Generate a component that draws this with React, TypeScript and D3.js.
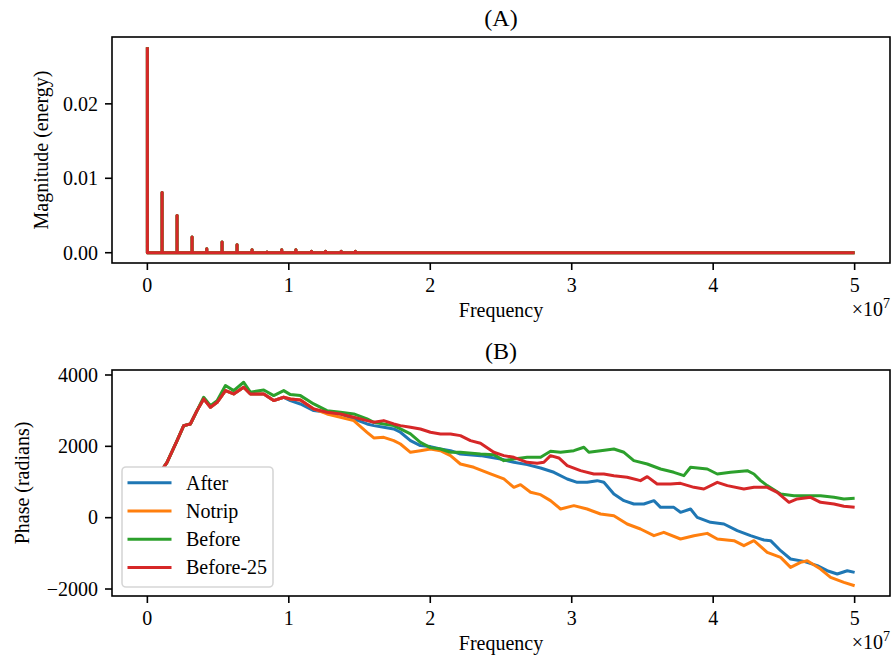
import React from "react";
import * as d3 from "d3";

// ---------- Data ----------
// Panel A: spectrum peaks (frequency in units of 1e7, magnitude in energy)
const harmonicFreq = [0, 0.104, 0.21, 0.316, 0.42, 0.528, 0.634, 0.74, 0.846, 0.95, 1.05, 1.16, 1.26, 1.37, 1.47];
const harmonicMag = [0.0276, 0.0081, 0.005, 0.0021, 0.00054, 0.00143, 0.00107, 0.0004, 0.0001, 0.0004, 0.0004, 0.0002, 0.0002, 0.0002, 0.0002];
const spectrumEnd = 5.0;

// Panel B: unwrapped phase (radians) vs frequency (units of 1e7)
const seriesNames = ["After", "Notrip", "Before", "Before-25"];
const seriesColors = ["#1f77b4", "#ff7f0e", "#2ca02c", "#d62728"];

const afterFreq = [0, 0.115, 0.139, 0.21, 0.257, 0.304, 0.351, 0.398, 0.446, 0.493, 0.552, 0.61, 0.681, 0.728, 0.823, 0.893, 0.964,
  1.011, 1.082, 1.176, 1.27, 1.365, 1.459, 1.553, 1.601, 1.671, 1.742, 1.789, 1.86, 1.93, 2.001, 2.072, 2.143, 2.213, 2.355, 2.497,
  2.591, 2.685, 2.78, 2.874, 2.968, 3.039, 3.109, 3.18, 3.227, 3.298, 3.369, 3.439, 3.51, 3.581, 3.628, 3.722, 3.769, 3.84, 3.887,
  3.981, 4.076, 4.17, 4.264, 4.359, 4.406, 4.477, 4.547, 4.641, 4.736, 4.806, 4.877, 4.948, 5.0];
const afterPhase = [0, 1412, 1552, 2160, 2581, 2627, 3001, 3329, 3095, 3235, 3562, 3469, 3656, 3469, 3469, 3282, 3375,
  3282, 3188, 3001, 2955, 2908, 2768, 2627, 2581, 2534, 2487, 2394, 2160, 2020, 1992, 1926, 1879, 1786, 1739, 1646,
  1552, 1487, 1393, 1272, 1085, 991, 991, 1038, 991, 664, 477, 383, 383, 477, 290, 290, 150, 243, 9,
  -131, -178, -365, -505, -626, -645, -926, -1159, -1225, -1346, -1487, -1580, -1487, -1533];

const notripFreq = [0, 0.115, 0.139, 0.21, 0.257, 0.304, 0.351, 0.398, 0.446, 0.493, 0.552, 0.61, 0.681, 0.728, 0.823, 0.893, 0.964,
  1.011, 1.082, 1.176, 1.27, 1.365, 1.459, 1.553, 1.601, 1.671, 1.742, 1.789, 1.86, 1.93, 2.001, 2.072, 2.143, 2.213, 2.308, 2.426,
  2.52, 2.591, 2.638, 2.709, 2.78, 2.85, 2.921, 3.015, 3.109, 3.204, 3.298, 3.392, 3.486, 3.581, 3.651, 3.769, 3.864, 3.958,
  4.029, 4.147, 4.217, 4.288, 4.382, 4.477, 4.547, 4.618, 4.665, 4.759, 4.83, 4.924, 5.0];
const notripPhase = [0, 1412, 1552, 2160, 2581, 2627, 3001, 3329, 3095, 3235, 3562, 3469, 3656, 3469, 3469, 3282, 3375,
  3329, 3301, 3048, 2908, 2814, 2721, 2394, 2235, 2253, 2160, 2066, 1833, 1879, 1926, 1879, 1739, 1505, 1412, 1225,
  1085, 851, 926, 711, 645, 477, 243, 337, 243, 103, 56, -178, -318, -505, -411, -598, -505, -440,
  -598, -645, -785, -645, -972, -1113, -1393, -1253, -1206, -1440, -1674, -1814, -1907];

const beforeFreq = [0, 0.115, 0.139, 0.21, 0.257, 0.304, 0.351, 0.398, 0.446, 0.493, 0.552, 0.61, 0.681, 0.728, 0.823, 0.893, 0.964,
  1.011, 1.082, 1.176, 1.27, 1.365, 1.459, 1.553, 1.601, 1.671, 1.742, 1.789, 1.86, 1.93, 2.001, 2.072, 2.143, 2.213, 2.355, 2.449,
  2.52, 2.591, 2.685, 2.78, 2.85, 2.921, 3.015, 3.086, 3.121, 3.204, 3.298, 3.369, 3.439, 3.534, 3.628, 3.722, 3.793, 3.84,
  3.958, 4.029, 4.123, 4.241, 4.288, 4.335, 4.382, 4.477, 4.571, 4.665, 4.759, 4.854, 4.924, 5.0];
const beforePhase = [0, 1412, 1552, 2160, 2581, 2627, 3001, 3375, 3140, 3280, 3703, 3562, 3796, 3520, 3581, 3422, 3562,
  3450, 3422, 3188, 3001, 2955, 2908, 2768, 2674, 2627, 2581, 2487, 2347, 2113, 1964, 1926, 1833, 1833, 1786, 1767,
  1599, 1646, 1692, 1692, 1861, 1833, 1879, 1973, 1833, 1879, 1926, 1833, 1599, 1505, 1365, 1272, 1178, 1412,
  1365, 1225, 1272, 1318, 1225, 1038, 898, 664, 617, 617, 617, 570, 524, 542];

const before25Freq = [0, 0.115, 0.139, 0.21, 0.257, 0.304, 0.351, 0.398, 0.446, 0.493, 0.552, 0.61, 0.681, 0.728, 0.823, 0.893, 0.964,
  1.011, 1.082, 1.176, 1.27, 1.365, 1.459, 1.553, 1.601, 1.671, 1.742, 1.789, 1.86, 1.93, 2.001, 2.072, 2.143, 2.213, 2.284, 2.355,
  2.449, 2.52, 2.591, 2.685, 2.756, 2.803, 2.85, 2.909, 2.968, 3.062, 3.156, 3.227, 3.298, 3.392, 3.486, 3.534, 3.604, 3.699,
  3.769, 3.864, 3.934, 4.029, 4.1, 4.217, 4.288, 4.382, 4.453, 4.536, 4.594, 4.689, 4.759, 4.854, 4.924, 5.0];
const before25Phase = [0, 1412, 1552, 2160, 2581, 2627, 3001, 3329, 3095, 3235, 3562, 3469, 3656, 3469, 3469, 3282, 3375,
  3329, 3301, 3048, 2955, 2908, 2814, 2721, 2674, 2721, 2628, 2581, 2534, 2487, 2394, 2347, 2347, 2300, 2160, 2085,
  1833, 1739, 1692, 1552, 1524, 1552, 1739, 1674, 1459, 1318, 1225, 1225, 1178, 1131, 1038, 1150, 944, 944,
  963, 851, 804, 991, 898, 804, 851, 851, 711, 430, 524, 570, 430, 383, 318, 290];

const xTicks = [0, 1, 2, 3, 4, 5];
const yTicksA = [0, 0.01, 0.02];
const yTicksB = [-2000, 0, 2000, 4000];

// ---------- Layout ----------
const W = 896;
const H = 659;
const FONT = "'Liberation Serif', 'Times New Roman', Times, serif";
const LEFT = 112;
const RIGHT = 890;
const A_TOP = 37;
const A_BOT = 263;
const B_TOP = 370;
const B_BOT = 596;

const x = d3.scaleLinear().domain([-0.25, 5.25]).range([LEFT, RIGHT]);
const magMax = d3.max(harmonicMag) as number;
const yA = d3.scaleLinear().domain([-0.05 * magMax, 1.05 * magMax]).range([A_BOT, A_TOP]);
const yB = d3.scaleLinear().domain([-2196, 4140]).range([B_BOT, B_TOP]);

const fmtMinus = (v: number, s: string) => (v < 0 ? "\u2212" + s.replace("-", "") : s);

function XAxis({ bottom }: { bottom: number }) {
  return (
    <g>
      {xTicks.map((t) => (
        <g key={t} transform={`translate(${x(t)},${bottom})`}>
          <line y1={0} y2={7} stroke="#000" strokeWidth={1.6} />
          <text y={29} textAnchor="middle" fontSize={20} fontFamily={FONT}>{t}</text>
        </g>
      ))}
      <text x={(LEFT + RIGHT) / 2} y={bottom + 54} textAnchor="middle" fontSize={20} fontFamily={FONT}>Frequency</text>
      <text x={RIGHT} y={bottom + 53} textAnchor="end" fontSize={20} fontFamily={FONT}>
        ×10<tspan dy={-8} fontSize={14}>7</tspan>
      </text>
    </g>
  );
}

function YAxis({ ticks, scale, fmt }: { ticks: number[]; scale: d3.ScaleLinear<number, number>; fmt: (v: number) => string }) {
  return (
    <g>
      {ticks.map((t) => (
        <g key={t} transform={`translate(${LEFT},${scale(t)})`}>
          <line x1={-7} x2={0} stroke="#000" strokeWidth={1.6} />
          <text x={-14} dy="0.34em" textAnchor="end" fontSize={20} fontFamily={FONT}>{fmt(t)}</text>
        </g>
      ))}
    </g>
  );
}

export default function App() {
  // Spectrum path for panel A
  const specPts: [number, number][] = [];
  harmonicFreq.forEach((f, i) => {
    if (i === 0) {
      specPts.push([f, harmonicMag[i]], [f, 0]);
    } else {
      specPts.push([f, 0], [f, harmonicMag[i]], [f, 0]);
    }
  });
  specPts.push([spectrumEnd, 0]);
  const lineA = d3.line<[number, number]>().x((d) => x(d[0])).y((d) => yA(d[1]));
  const specPath = lineA(specPts) || "";

  const series = [
    { f: afterFreq, v: afterPhase },
    { f: notripFreq, v: notripPhase },
    { f: beforeFreq, v: beforePhase },
    { f: before25Freq, v: before25Phase },
  ];
  const paths = series.map((s) =>
    d3
      .line<number>()
      .x((_, i) => x(s.f[i]))
      .y((d) => yB(d))(s.v) || ""
  );

  const legX = 122;
  const legY = 467;
  const legW = 151;
  const legH = 120;

  return (
    <svg width={W} height={H} style={{ position: "absolute", left: 0, top: 0, background: "#fff" }}>
      <rect x={0} y={0} width={W} height={H} fill="#fff" />
      {/* Panel A */}
      <text x={(LEFT + RIGHT) / 2} y={26} textAnchor="middle" fontSize={24} fontFamily={FONT}>(A)</text>
      <defs>
        <clipPath id="clipA"><rect x={LEFT} y={A_TOP} width={RIGHT - LEFT} height={A_BOT - A_TOP} /></clipPath>
        <clipPath id="clipB"><rect x={LEFT} y={B_TOP} width={RIGHT - LEFT} height={B_BOT - B_TOP} /></clipPath>
      </defs>
      <g clipPath="url(#clipA)">
        {seriesColors.map((c) => (
          <path key={c} d={specPath} fill="none" stroke={c} strokeWidth={3} strokeLinejoin="round" />
        ))}
      </g>
      <rect x={LEFT} y={A_TOP} width={RIGHT - LEFT} height={A_BOT - A_TOP} fill="none" stroke="#000" strokeWidth={1.6} />
      <XAxis bottom={A_BOT} />
      <YAxis ticks={yTicksA} scale={yA} fmt={(v) => d3.format(".2f")(v)} />
      <text transform={`translate(41,${(A_TOP + A_BOT) / 2}) rotate(-90)`} textAnchor="middle" dy="0.35em" fontSize={20} fontFamily={FONT}>
        Magnitude (energy)
      </text>

      {/* Panel B */}
      <text x={(LEFT + RIGHT) / 2} y={359} textAnchor="middle" fontSize={24} fontFamily={FONT}>(B)</text>
      <g clipPath="url(#clipB)">
        {paths.map((p, i) => (
          <path key={i} d={p} fill="none" stroke={seriesColors[i]} strokeWidth={3} strokeLinejoin="round" />
        ))}
      </g>
      <rect x={LEFT} y={B_TOP} width={RIGHT - LEFT} height={B_BOT - B_TOP} fill="none" stroke="#000" strokeWidth={1.6} />
      <XAxis bottom={B_BOT} />
      <YAxis ticks={yTicksB} scale={yB} fmt={(v) => fmtMinus(v, String(v))} />
      <text transform={`translate(22,${(B_TOP + B_BOT) / 2}) rotate(-90)`} textAnchor="middle" dy="0.35em" fontSize={20} fontFamily={FONT}>
        Phase (radians)
      </text>

      {/* Legend */}
      <rect x={legX} y={legY} width={legW} height={legH} rx={4} ry={4} fill="#fff" fillOpacity={1} stroke="#cccccc" strokeOpacity={0.8} strokeWidth={1.6} />
      {seriesNames.map((n, i) => {
        const yy = legY + 15.7 + i * 28.3;
        return (
          <g key={n}>
            <line x1={legX + 7} x2={legX + 48} y1={yy} y2={yy} stroke={seriesColors[i]} strokeWidth={3} strokeLinecap="square" />
            <text x={legX + 64} y={yy} dy="0.34em" fontSize={20} fontFamily={FONT}>{n}</text>
          </g>
        );
      })}
    </svg>
  );
}
